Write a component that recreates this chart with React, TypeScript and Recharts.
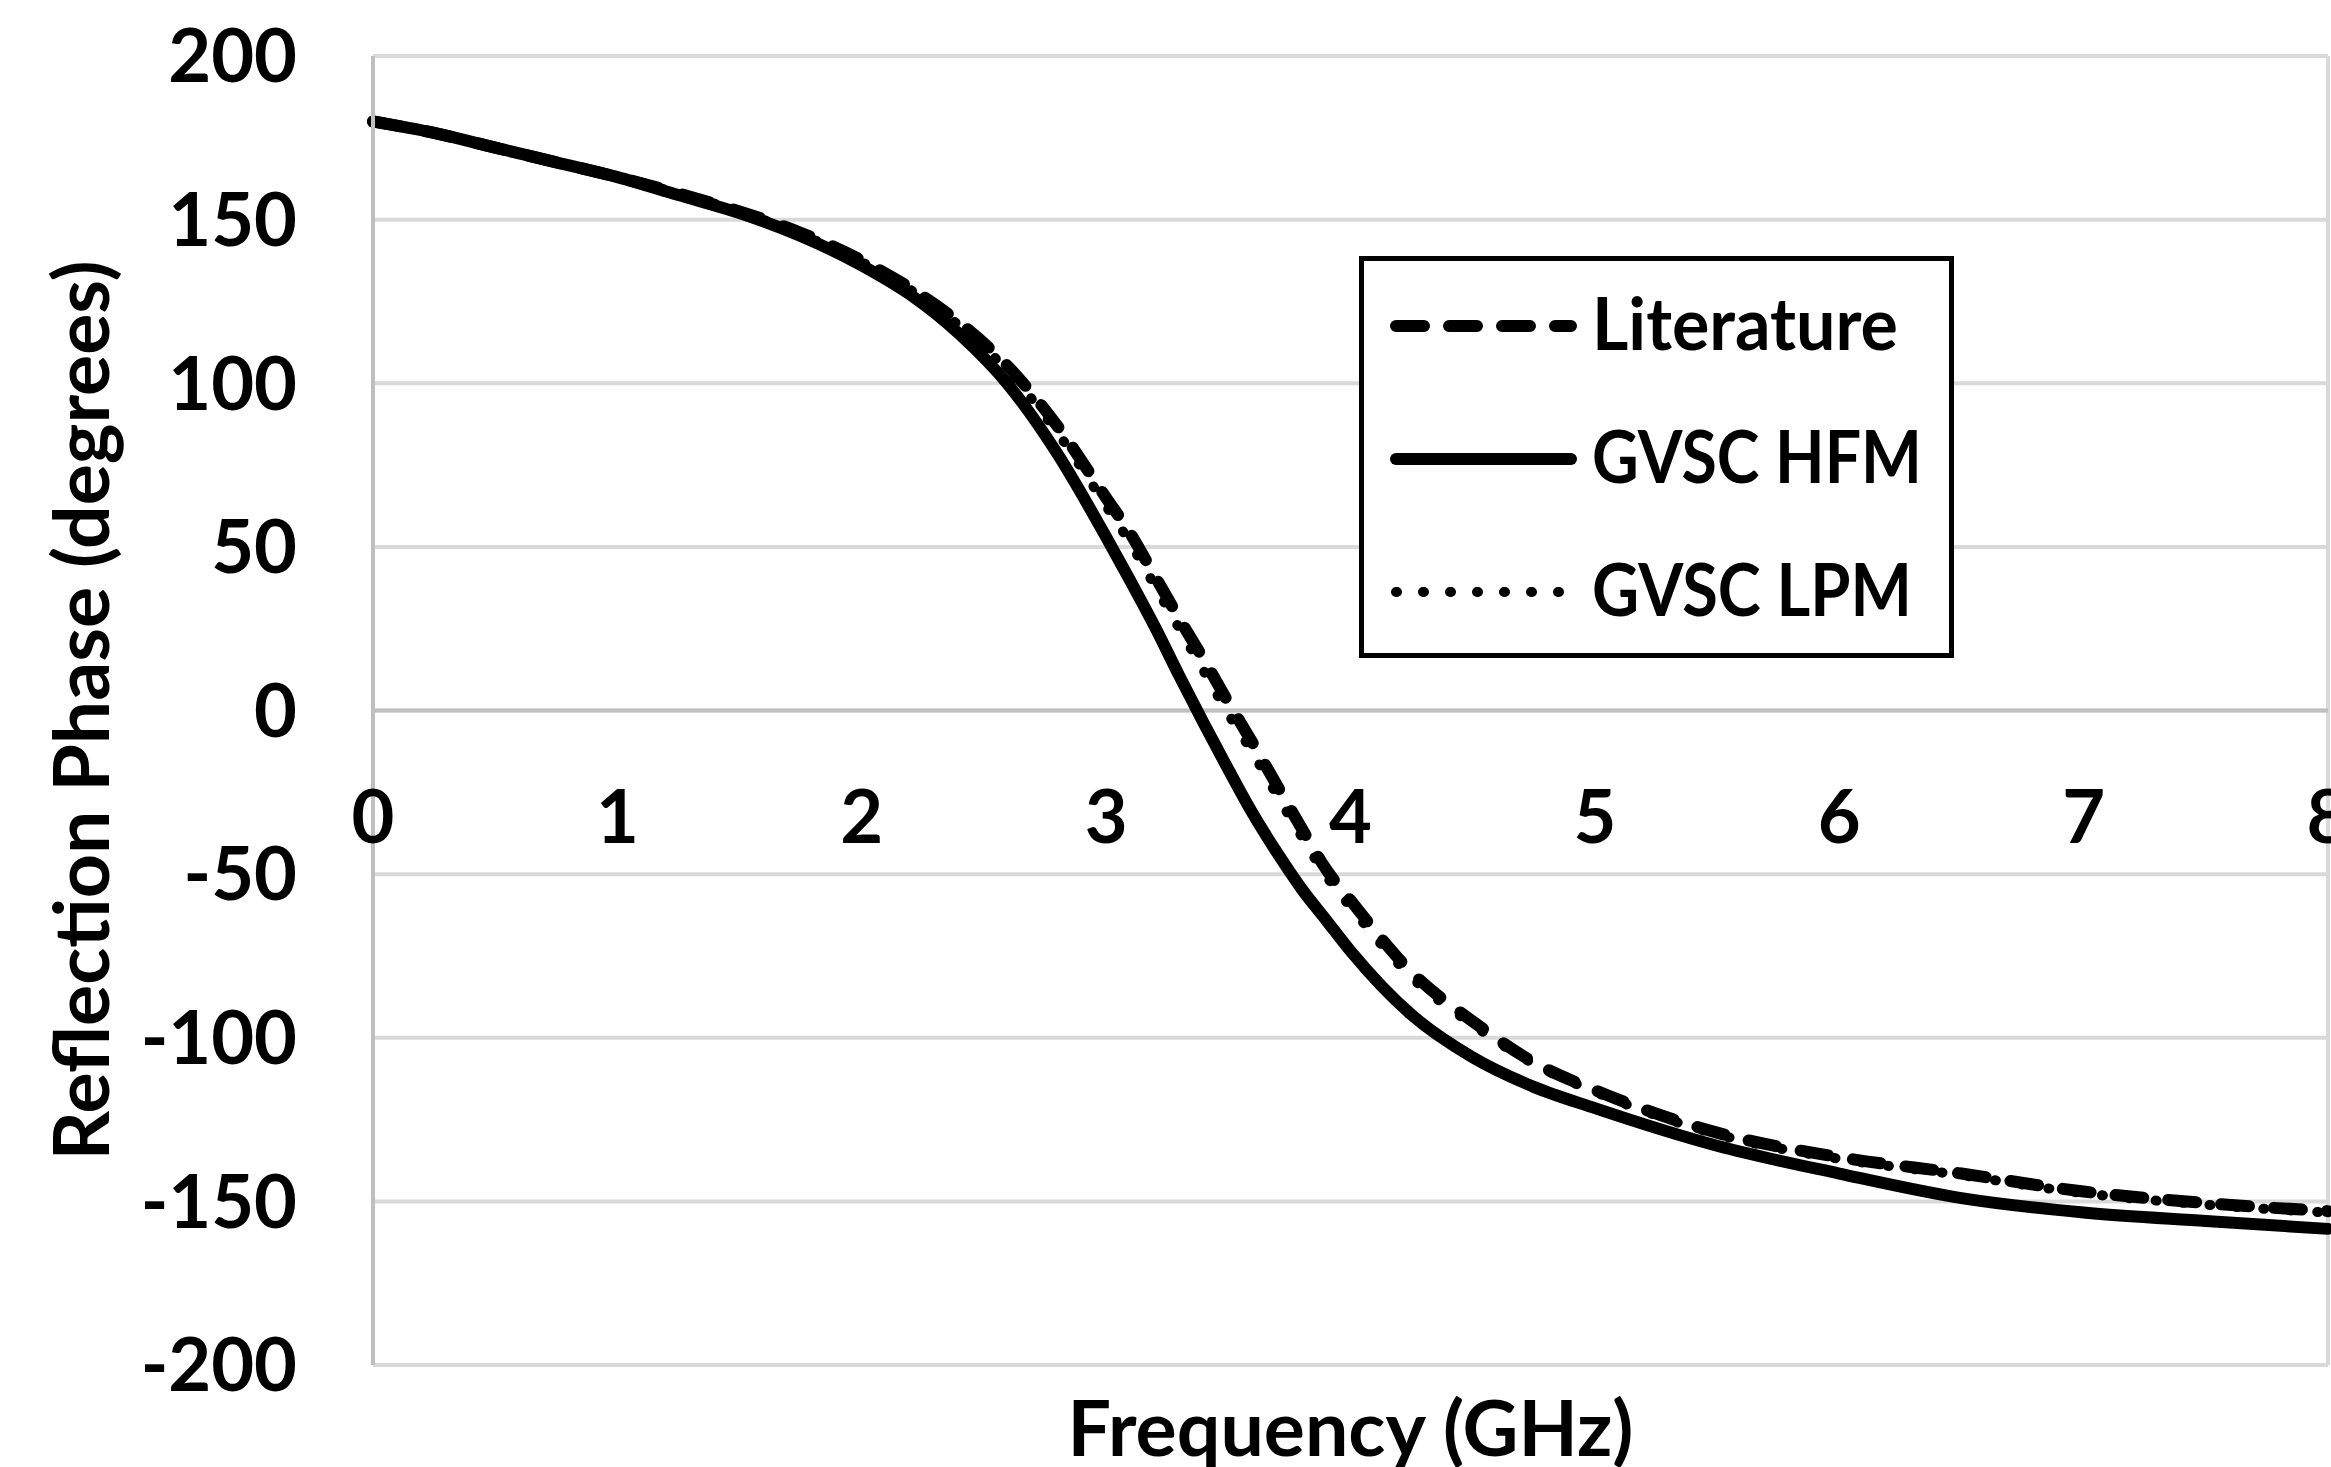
import React from "react";
import {
  LineChart,
  Line,
  XAxis,
  YAxis,
  CartesianGrid,
  ReferenceLine,
  ReferenceDot,
  Legend,
} from "recharts";

// frequency sweep (GHz) and reflection phase (degrees) for each source
const freq = [0, 0.25, 0.5, 0.75, 1, 1.25, 1.5, 1.75, 2, 2.2, 2.4, 2.6, 2.8, 3, 3.1, 3.2, 3.3, 3.4, 3.5, 3.6, 3.7, 3.8, 3.9, 4, 4.25, 4.5, 4.75, 5, 5.5, 6, 6.5, 7, 7.5, 8];
const literature = [180, 176.5, 172, 167.5, 163, 158, 152.5, 146, 137.5, 129, 118.5, 105, 87, 65, 54, 41, 28, 15.5, 2.5, -10, -23, -36, -48.5, -58, -80, -95, -107.5, -116, -129, -136.5, -141.5, -147, -150.5, -153];
const gvscHfm = [180, 176.5, 172, 167.5, 163, 157.5, 152, 145, 136, 127, 115, 99.5, 78.5, 53, 39.5, 25.5, 10.5, -4, -18, -31.5, -43.5, -54.5, -64, -73.5, -93, -106, -115, -121.5, -133, -141.5, -149, -153.4, -156, -158.4];
const gvscLpm = [180, 176.5, 172, 167.5, 163, 158, 152.5, 145.5, 137, 128.5, 117.5, 103.5, 85, 62.5, 51, 38, 25, 12, -1, -13, -26, -38.5, -50.5, -60, -81.5, -96, -108, -116.5, -129.5, -137, -142, -147.5, -151, -153.4];

const xTicks = [0, 1, 2, 3, 4, 5, 6, 7, 8];
const yTicks = [-200, -150, -100, -50, 0, 50, 100, 150, 200];

const series = [
  { key: "literature", name: "Literature", width: 12, dash: "28 25", sampleEnd: 212, textWidth: 306 },
  { key: "hfm", name: "GVSC HFM", width: 12, dash: undefined, sampleEnd: 212, textWidth: 330 },
  { key: "lpm", name: "GVSC LPM", width: 10, dash: "1 26", sampleEnd: 200, textWidth: 320 },
];

const data = freq.map((f, i) => ({
  f,
  literature: literature[i],
  hfm: gvscHfm[i],
  lpm: gvscLpm[i],
}));

const FONT = "Lato, 'Open Sans', sans-serif";
const textStyle = { fontFamily: FONT, fontSize: 74, fontWeight: 700, fill: "#000" };
const titleStyle = { ...textStyle, fontSize: 77 };

function LegendBox({ payload }: any) {
  const keys = (payload || []).map((p: any) => p.dataKey);
  const items = series.filter((s) => keys.includes(s.key));
  return (
    <svg width={595} height={402} style={{ display: "block" }}>
      <rect x={2.5} y={2.5} width={590} height={397} fill="#fff" stroke="#000" strokeWidth={5} />
      {items.map((s, i) => {
        const cy = 70 + i * 133;
        return (
          <g key={s.key}>
            <line
              x1={37}
              x2={s.sampleEnd}
              y1={cy}
              y2={cy}
              stroke="#000"
              strokeWidth={s.width}
              strokeDasharray={s.dash}
              strokeLinecap="round"
            />
            <text
              x={233}
              y={cy - 4}
              dominantBaseline="central"
              textLength={s.textWidth}
              lengthAdjust="spacingAndGlyphs"
              style={{ ...textStyle, fontSize: 72 }}
            >
              {s.name}
            </text>
          </g>
        );
      })}
    </svg>
  );
}

export default function App() {
  return (
    <div
      style={{
        position: "absolute",
        left: 0,
        top: 0,
        width: 2331,
        height: 1467,
        overflow: "hidden",
        background: "#fff",
      }}
    >
      <LineChart width={2400} height={1500} data={data} margin={{ top: 56, right: 72, bottom: 0, left: 0 }}>
        <CartesianGrid stroke="#d9d9d9" strokeWidth={4} />
        <XAxis
          type="number"
          dataKey="f"
          domain={[0, 8]}
          ticks={xTicks}
          tick={false}
          axisLine={false}
          tickLine={false}
          height={135}
          label={{
            value: "Frequency (GHz)",
            position: "insideTop",
            offset: 36,
            style: titleStyle,
          }}
        />
        <YAxis
          type="number"
          domain={[-200, 200]}
          ticks={yTicks}
          width={373}
          axisLine={{ stroke: "#bfbfbf", strokeWidth: 4 }}
          tickLine={false}
          tickSize={0}
          tickMargin={76}
          tick={textStyle}
          label={{
            value: "Reflection Phase (degrees)",
            angle: -90,
            position: "insideLeft",
            offset: 82,
            style: { ...titleStyle, textAnchor: "middle" },
          }}
        />
        <ReferenceLine y={0} stroke="#bfbfbf" strokeWidth={4} />
        {xTicks.map((t) => (
          <ReferenceDot
            key={t}
            x={t}
            y={0}
            r={0}
            fill="none"
            stroke="none"
            label={{ value: String(t), position: "bottom", offset: 80, style: textStyle }}
          />
        ))}
        {series.map((s) => (
          <Line
            key={s.key}
            type="monotone"
            dataKey={s.key}
            name={s.name}
            stroke="#000"
            strokeWidth={s.width}
            strokeDasharray={s.dash}
            strokeLinecap="round"
            dot={false}
            activeDot={false}
            isAnimationActive={false}
          />
        ))}
        <Legend
          layout="vertical"
          align="center"
          verticalAlign="middle"
          content={<LegendBox />}
          wrapperStyle={{ left: 1359, top: 256, width: 595, height: 402 }}
        />
      </LineChart>
    </div>
  );
}
